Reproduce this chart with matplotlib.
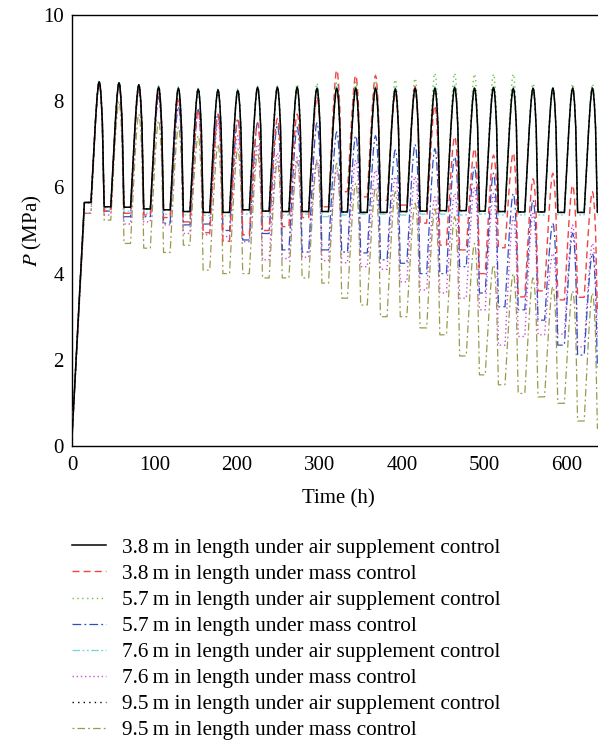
import matplotlib
matplotlib.use('Agg')
import matplotlib.pyplot as plt

# peak times of the daily cycles (h)
peak_t = [33, 57, 81, 105, 129, 153, 177, 201, 225, 249, 273, 297, 321,
          344, 368, 392, 416, 440, 464, 488, 511, 535, 559, 583, 607, 631]

labels = [
    '3.8\u2009m in length under air supplement control',
    '3.8\u2009m in length under mass control',
    '5.7\u2009m in length under air supplement control',
    '5.7\u2009m in length under mass control',
    '7.6\u2009m in length under air supplement control',
    '7.6\u2009m in length under mass control',
    '9.5\u2009m in length under air supplement control',
    '9.5\u2009m in length under mass control',
]

# peak / trough pressure (MPa) of every cycle (trough k follows peak k)
air38_pk = [8.45, 8.43, 8.38, 8.33, 8.30, 8.28, 8.26, 8.25, 8.32, 8.32, 8.32, 8.30, 8.30,
            8.30, 8.30, 8.28, 8.30, 8.30, 8.32, 8.30, 8.32, 8.30, 8.30, 8.30, 8.30, 8.30]
air38_tr = [5.55, 5.54, 5.50, 5.48, 5.44, 5.42, 5.42, 5.48, 5.45, 5.44, 5.44, 5.44, 5.43,
            5.42, 5.42, 5.44, 5.45, 5.46, 5.46, 5.45, 5.44, 5.43, 5.43, 5.42, 5.42, 5.42]
mass38_pk = [8.45, 8.40, 8.30, 8.20, 8.10, 7.80, 7.70, 7.56, 7.50, 7.60, 7.70, 8.10, 8.72,
             8.60, 8.60, 8.20, 8.34, 7.90, 7.18, 6.90, 6.75, 6.80, 6.20, 6.33, 6.05, 5.90]
mass38_tr = [5.45, 5.40, 5.36, 5.30, 5.20, 4.95, 4.75, 4.90, 5.00, 5.09, 5.30, 5.55, 5.90,
             5.78, 5.70, 5.59, 5.17, 4.66, 4.55, 4.00, 4.60, 3.46, 3.60, 3.39, 3.45, 3.08]
air57_pk = [8.45, 8.43, 8.38, 8.33, 8.30, 8.28, 8.26, 8.25, 8.32, 8.35, 8.40, 8.42, 8.45,
            8.45, 8.48, 8.50, 8.53, 8.65, 8.65, 8.63, 8.63, 8.63, 8.41, 8.30, 8.40, 8.40]
air57_tr = [5.55, 5.54, 5.50, 5.48, 5.44, 5.42, 5.42, 5.48, 5.45, 5.44, 5.44, 5.44, 5.43,
            5.42, 5.42, 5.44, 5.45, 5.46, 5.46, 5.45, 5.44, 5.43, 5.43, 5.42, 5.42, 5.42]
mass57_pk = [8.45, 8.40, 8.30, 8.10, 7.87, 7.80, 7.70, 7.60, 7.50, 7.45, 7.40, 7.50, 7.29,
             7.20, 7.20, 6.87, 7.00, 6.90, 6.71, 6.48, 6.33, 5.86, 5.71, 5.17, 4.94, 4.47]
mass57_tr = [5.45, 5.32, 5.32, 5.17, 5.13, 5.15, 5.00, 4.78, 4.93, 4.55, 4.50, 4.55, 4.50,
             4.48, 4.32, 4.24, 4.00, 4.00, 4.16, 3.55, 3.23, 3.16, 2.92, 2.34, 2.11, 1.84]
air76_pk = [8.48, 8.45, 8.40, 8.36, 8.34, 8.32, 8.30, 8.30, 8.35, 8.35, 8.35, 8.34, 8.34,
            8.34, 8.34, 8.32, 8.34, 8.34, 8.36, 8.34, 8.36, 8.34, 8.34, 8.34, 8.34, 8.34]
air76_tr = [5.50, 5.45, 5.40, 5.38, 5.36, 5.35, 5.34, 5.38, 5.32, 5.36, 5.38, 5.32, 5.36,
            5.38, 5.38, 5.36, 5.38, 5.38, 5.36, 5.38, 5.36, 5.36, 5.36, 5.36, 5.36, 5.36]
mass76_pk = [8.45, 8.40, 8.30, 8.20, 8.00, 7.80, 7.50, 7.20, 7.00, 6.80, 6.70, 6.63, 6.40,
             6.63, 6.40, 6.25, 6.25, 5.78, 5.86, 6.00, 5.86, 5.32, 5.40, 4.47, 5.13, 4.70]
mass76_tr = [5.36, 5.15, 5.20, 5.13, 4.93, 4.90, 4.86, 4.74, 4.32, 4.35, 4.38, 4.30, 4.25,
             4.16, 4.10, 3.81, 3.62, 3.55, 3.43, 3.16, 2.34, 2.54, 2.58, 2.60, 2.30, 2.50]
air95_pk = [8.45, 8.43, 8.38, 8.33, 8.30, 8.28, 8.26, 8.25, 8.32, 8.32, 8.32, 8.30, 8.30,
            8.30, 8.30, 8.28, 8.30, 8.30, 8.32, 8.30, 8.32, 8.30, 8.30, 8.30, 8.30, 8.30]
air95_tr = [5.55, 5.54, 5.50, 5.48, 5.44, 5.42, 5.42, 5.48, 5.45, 5.44, 5.44, 5.44, 5.43,
            5.42, 5.42, 5.44, 5.45, 5.46, 5.46, 5.45, 5.44, 5.43, 5.43, 5.42, 5.42, 5.42]
mass95_pk = [8.45, 8.00, 7.70, 7.55, 7.40, 7.20, 7.00, 6.90, 6.80, 6.60, 6.60, 6.60, 6.56,
             6.10, 6.00, 5.90, 5.63, 5.50, 5.32, 4.70, 4.20, 4.00, 3.90, 3.70, 3.60, 3.55]
mass95_tr = [5.24, 4.70, 4.59, 4.49, 4.66, 4.08, 4.00, 4.00, 3.90, 3.90, 3.90, 3.78, 3.43,
             3.27, 3.00, 3.00, 2.74, 2.58, 2.09, 1.65, 1.42, 1.22, 1.14, 0.99, 0.58, 0.41]

# start-up: pressure ramp then a short hold before the first cycle
start_t = [0, 15]
start_p = [0.2, 5.65]
start_p_low = [0.2, 5.40]

# hump shape of one cycle: (offset from peak in h, fraction of the swing)
# slow injection, quick withdrawal, then a hold
rise_shape = [(-10.0, 0.0), (-4.5, 0.68), (-2.5, 0.88), (-1.0, 0.98), (0.0, 1.0)]
fall_shape = [(1.0, 0.98), (2.3, 0.88), (3.8, 0.68), (6.0, 0.0)]

colors = ['black', '#f24343', '#70c040', '#2f4fc4', '#70d4de', '#cc4fcc', 'black', '#9a9a4d']
styles = ['-', (0, (5, 3)), (0, (1, 2.5)), (0, (7, 2.5, 1.5, 2.5)),
          (0, (6, 2, 1.5, 2, 1.5, 2)), (0, (1, 2)), (0, (1, 3)), (0, (1.5, 2.5, 6, 2.5))]
widths = [1.1, 1.0, 1.0, 0.9, 0.9, 1.0, 1.0, 0.9]
orders = [8, 6, 7, 4, 5, 3, 9, 2]

series = [(air38_pk, air38_tr), (mass38_pk, mass38_tr), (air57_pk, air57_tr),
          (mass57_pk, mass57_tr), (air76_pk, air76_tr), (mass76_pk, mass76_tr),
          (air95_pk, air95_tr), (mass95_pk, mass95_tr)]

plt.rcParams['font.family'] = ['Liberation Serif', 'DejaVu Serif']
plt.rcParams['mathtext.fontset'] = 'stix'

fig = plt.figure(figsize=(5.98, 7.42), dpi=100)
ax = fig.add_axes([72 / 598, 1 - 446 / 742, 1 - 72 / 598 + 0.01, 431 / 742])

for i, (pk, tr) in enumerate(series):
    t = list(start_t)
    p = list(start_p_low if i in (5, 7) else start_p)
    low = p[-1]
    for k in range(len(peak_t)):
        for dt, f in rise_shape:
            t.append(peak_t[k] + dt)
            p.append(low + f * (pk[k] - low))
        for dt, f in fall_shape:
            t.append(peak_t[k] + dt)
            p.append(tr[k] + f * (pk[k] - tr[k]))
        low = tr[k]
    t.append(650)
    p.append(tr[-1])
    ax.plot(t, p, color=colors[i], linestyle=styles[i], lw=widths[i],
            zorder=orders[i], label=labels[i])

ax.set_xlim(0, 645)
ax.set_ylim(0, 10)
ax.set_xticks([0, 100, 200, 300, 400, 500, 600])
ax.set_yticks([0, 2, 4, 6, 8, 10])
ax.tick_params(axis='x', length=0, labelsize=15, pad=7.5)
ax.tick_params(axis='y', length=0, labelsize=15, pad=6)
ax.spines['right'].set_visible(False)
for s in ax.spines.values():
    s.set_linewidth(1.0)
ax.set_xlabel('Time (h)', fontsize=15, labelpad=10)
ax.set_ylabel('$P$ (MPa)', fontsize=15, labelpad=-1)

fig.legend(loc='upper left', bbox_to_anchor=(72 / 598, 1 - 538 / 742),
           frameon=False, borderpad=0, borderaxespad=0, fontsize=15.3,
           handlelength=1.6, handletextpad=0.75, labelspacing=0.29)

fig.savefig('out.png', dpi=100)
